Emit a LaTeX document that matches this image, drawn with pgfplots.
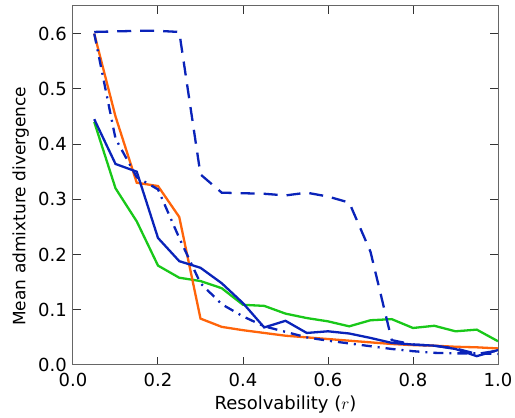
\documentclass[border=0pt]{standalone}
\usepackage{pgfplots}
\pgfplotsset{compat=1.18}
\usepackage{fontspec}
\setmainfont{DejaVu Sans}
\definecolor{cblue}{RGB}{10,35,185}
\definecolor{cgreen}{RGB}{25,200,25}
\definecolor{corange}{RGB}{255,100,10}
\begin{document}
\fontsize{18bp}{21bp}\selectfont
\begin{tikzpicture}
\begin{axis}[
  scale only axis, width=425bp, height=359bp,
  xmin=0, xmax=1, ymin=0, ymax=0.65,
  xtick={0,0.2,0.4,0.6,0.8,1.0},
  ytick={0,0.1,0.2,0.3,0.4,0.5,0.6},
  xticklabel style={/pgf/number format/.cd, fixed, fixed zerofill, precision=1},
  yticklabel style={/pgf/number format/.cd, fixed, fixed zerofill, precision=1},
  /pgf/number format/assume math mode=true,
  tick align=inside, major tick length=8bp,
  axis line style={black!60, line width=1bp},
  tick style={black!80, line width=1bp},
  xticklabel shift=2bp,
  xlabel={Resolvability ($r$)},
  ylabel={Mean admixture divergence},
  xlabel style={yshift=3bp},
  ylabel style={at={(ticklabel cs:0.442)}, yshift=-3bp, font=\fontsize{17bp}{20bp}\selectfont},
  every axis plot/.append style={line width=2.3bp, mark=none},
]
\addplot[cgreen] coordinates {
(0.05,0.44) (0.10,0.32) (0.15,0.26) (0.20,0.18) (0.25,0.158) (0.30,0.152)
(0.35,0.139) (0.40,0.109) (0.45,0.107) (0.50,0.093) (0.55,0.085) (0.60,0.079)
(0.65,0.070) (0.70,0.081) (0.75,0.083) (0.80,0.067) (0.85,0.071) (0.90,0.061)
(0.95,0.064) (1.00,0.043)};
\addplot[corange] coordinates {
(0.05,0.60) (0.10,0.45) (0.15,0.33) (0.20,0.324) (0.25,0.268) (0.30,0.084)
(0.35,0.069) (0.40,0.063) (0.45,0.058) (0.50,0.053) (0.55,0.050) (0.60,0.047)
(0.65,0.044) (0.70,0.041) (0.75,0.038) (0.80,0.036) (0.85,0.035) (0.90,0.033)
(0.95,0.032) (1.00,0.030)};
\addplot[cblue, dash pattern=on 14bp off 9bp] coordinates {
(0.05,0.603) (0.10,0.604) (0.15,0.605) (0.20,0.605) (0.25,0.603) (0.30,0.345)
(0.35,0.312) (0.40,0.311) (0.45,0.310) (0.50,0.307) (0.55,0.312) (0.60,0.305)
(0.65,0.294) (0.70,0.205) (0.75,0.045) (0.80,0.037) (0.85,0.035) (0.90,0.030)
(0.95,0.020) (1.00,0.026)};
\addplot[cblue, dash pattern=on 10bp off 6bp on 2bp off 6bp] coordinates {
(0.05,0.60) (0.10,0.41) (0.15,0.34) (0.20,0.318) (0.25,0.23) (0.30,0.148)
(0.35,0.11) (0.40,0.088) (0.45,0.070) (0.50,0.060) (0.55,0.050) (0.60,0.044)
(0.65,0.039) (0.70,0.034) (0.75,0.029) (0.80,0.025) (0.85,0.022) (0.90,0.021)
(0.95,0.021) (1.00,0.020)};
\addplot[cblue] coordinates {
(0.05,0.445) (0.10,0.364) (0.15,0.35) (0.20,0.23) (0.25,0.188) (0.30,0.176)
(0.35,0.148) (0.40,0.112) (0.45,0.068) (0.50,0.080) (0.55,0.058) (0.60,0.061)
(0.65,0.057) (0.70,0.049) (0.75,0.040) (0.80,0.037) (0.85,0.035) (0.90,0.029)
(0.95,0.016) (1.00,0.027)};
\coordinate (ll) at (rel axis cs:0,0);
\coordinate (ur) at (rel axis cs:1,1);
\end{axis}
\pgfresetboundingbox
\path ([xshift=-73bp,yshift=-53bp]ll) rectangle ([xshift=17bp,yshift=6bp]ur);
\end{tikzpicture}
\end{document}
